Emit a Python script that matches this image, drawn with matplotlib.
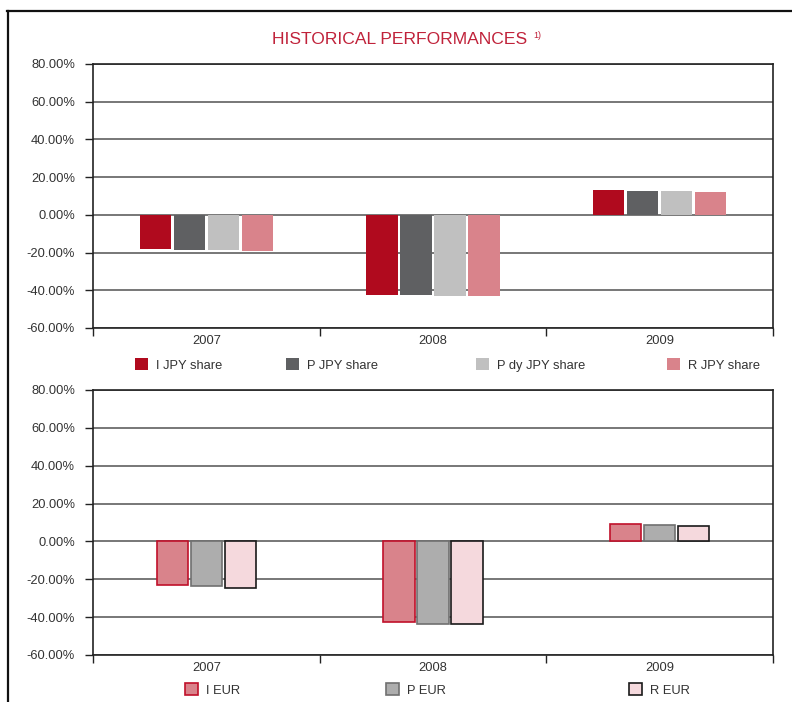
import matplotlib
matplotlib.use("Agg")
import matplotlib.pyplot as plt
from matplotlib.lines import Line2D
import numpy as np

plt.rcParams['font.family'] = ['Liberation Sans', 'DejaVu Sans']

years = ["2007", "2008", "2009"]

# top chart, JPY shares (%)
jpy_labels = ["I JPY share", "P JPY share", "P dy JPY share", "R JPY share"]
i_jpy = [-18.1, -42.6, 13.2]
p_jpy = [-18.6, -42.6, 12.7]
pdy_jpy = [-18.6, -43.1, 12.7]
r_jpy = [-19.1, -43.1, 12.1]

# bottom chart, EUR shares (%)
eur_labels = ["I EUR", "P EUR", "R EUR"]
i_eur = [-23.3, -42.7, 9.2]
p_eur = [-23.8, -43.4, 8.7]
r_eur = [-24.4, -43.8, 8.1]

yticks = [-60, -40, -20, 0, 20, 40, 60, 80]

jpy_colors = ["#b00a1e", "#5f6062", "#c0c0c0", "#d9838b"]
eur_fill = ["#d9838b", "#adadad", "#f5d9dd"]
eur_edge = ["#c0102a", "#707070", "#1a1a1a"]
title_red = "#c0223a"
txt = "#333333"

fig = plt.figure(figsize=(7.92, 7.02), dpi=100)


def style_axes(ax):
    ax.set_ylim(-60, 80)
    ax.set_xlim(-0.5, 2.5)
    ax.set_yticks(yticks)
    ax.set_yticklabels(["%.2f%%" % v for v in yticks], color=txt, fontsize=9.3)
    ax.yaxis.grid(True, color="#606060", linewidth=1.2)
    ax.set_axisbelow(True)
    ax.tick_params(axis="y", length=6, width=1, pad=7, color="#222222")
    ax.set_xticks(range(len(years)))
    ax.set_xticklabels(years, color=txt, fontsize=9.3)
    ax.set_xticks([0.5, 1.5, 2.5, -0.5], minor=True)
    ax.tick_params(axis="x", which="major", length=0, pad=5)
    ax.tick_params(axis="x", which="minor", length=6, width=1, color="#222222")
    for s in ["left", "right", "top", "bottom"]:
        ax.spines[s].set_color("#222222")
        ax.spines[s].set_linewidth(1.2)


x = np.arange(len(years))
step = 0.15
w = 0.137

ax1 = fig.add_axes([0.1174, 0.5328, 0.8586, 0.3761])
style_axes(ax1)
bars1 = []
for k, vals in enumerate([i_jpy, p_jpy, pdy_jpy, r_jpy]):
    b = ax1.bar(x + (k - 1.5) * step, vals, width=w, color=jpy_colors[k],
                label=jpy_labels[k], zorder=3)
    bars1.append(b)

ax2 = fig.add_axes([0.1174, 0.0670, 0.8586, 0.3775])
style_axes(ax2)
bars2 = []
for k, vals in enumerate([i_eur, p_eur, r_eur]):
    b = ax2.bar(x + (k - 1) * step, vals, width=w, color=eur_fill[k],
                edgecolor=eur_edge[k], linewidth=1.2, label=eur_labels[k], zorder=3)
    bars2.append(b)

# legends, one per entry so the spacing matches
leg_top_x = [135, 286, 476, 667]
for b, lab, px in zip(bars1, jpy_labels, leg_top_x):
    fig.legend([b], [lab], loc="center left", bbox_to_anchor=(px / 792, 1 - 365 / 702),
               frameon=False, fontsize=9.3, handlelength=1.0, handleheight=1.0,
               handletextpad=0.6, borderpad=0, borderaxespad=0, labelcolor=txt)

leg_bot_x = [185, 386, 629]
for b, lab, px in zip(bars2, eur_labels, leg_bot_x):
    fig.legend([b], [lab], loc="center left", bbox_to_anchor=(px / 792, 1 - 690 / 702),
               frameon=False, fontsize=9.3, handlelength=1.0, handleheight=1.0,
               handletextpad=0.6, borderpad=0, borderaxespad=0, labelcolor=txt)

# title
fig.text(272 / 792, 1 - 40 / 702, "HISTORICAL PERFORMANCES", color=title_red, fontsize=12.6,
         ha="left", va="center")
fig.text(533 / 792, 1 - 36 / 702, "1)", color=title_red, fontsize=6.5, ha="left", va="center")

# outer frame
fig.add_artist(Line2D([8 / 792, 8 / 792], [0, 1 - 11 / 702], color="#111111", linewidth=1.6))
fig.add_artist(Line2D([7 / 792, 1], [1 - 11 / 702, 1 - 11 / 702], color="#111111", linewidth=1.6))

fig.savefig("out.png", dpi=100)
